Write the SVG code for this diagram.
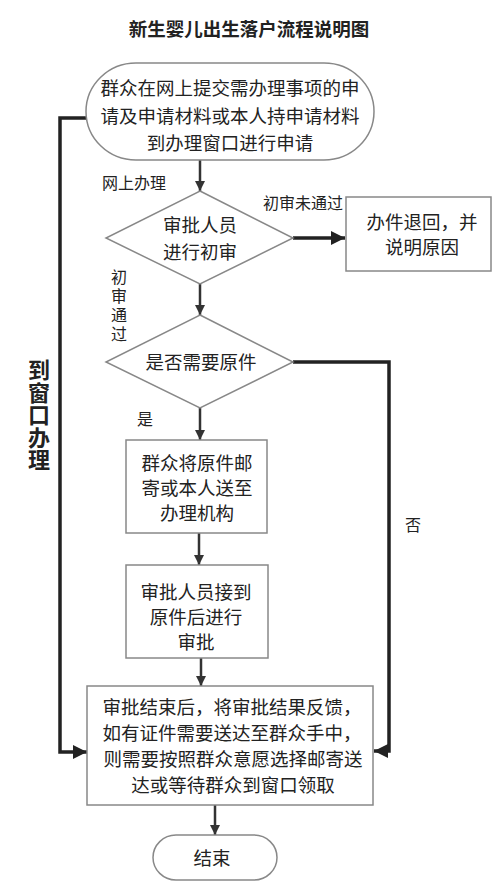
<svg xmlns="http://www.w3.org/2000/svg" width="500" height="888" viewBox="0 0 500 888">
<style>
text{font-family:"Noto Sans CJK SC","Noto Sans CJK JP",sans-serif;fill:#222;text-anchor:middle}
.t{font-size:18.5px}
.lbl{font-size:16px}
.title{font-size:18.5px;font-weight:bold}
.big{font-size:22px;font-weight:bold}
.vert{writing-mode:tb;text-anchor:start}
.node{fill:#fff;stroke:#888;stroke-width:1.5}
.c{fill:none;stroke:#333;stroke-width:2.5}
.ct{fill:none;stroke:#222;stroke-width:3.5}
</style>
<defs>
<marker id="a" viewBox="0 0 10 10" refX="10" refY="5" markerWidth="10" markerHeight="11" markerUnits="userSpaceOnUse" orient="auto"><path d="M0,0L10,5L0,10z" fill="#333"/></marker>
<marker id="A" viewBox="0 0 10 10" refX="10" refY="5" markerWidth="16" markerHeight="14" markerUnits="userSpaceOnUse" orient="auto"><path d="M0,0L10,5L0,10z" fill="#222"/></marker>
</defs>
<rect width="500" height="888" fill="#fff"/>
<text class="title" x="249" y="36">新生婴儿出生落户流程说明图</text>

<g id="connectors">
<line class="c" x1="200" y1="160" x2="200" y2="191" marker-end="url(#a)"/>
<line class="ct" x1="293" y1="238" x2="345" y2="238" marker-end="url(#A)"/>
<line class="c" x1="200" y1="284" x2="200" y2="315" marker-end="url(#a)"/>
<polyline class="ct" points="293,362 389,362 389,751 374,751" marker-end="url(#A)"/>
<line class="c" x1="200" y1="408" x2="200" y2="440" marker-end="url(#a)"/>
<line class="c" x1="199" y1="533" x2="199" y2="565" marker-end="url(#a)"/>
<line class="c" x1="201" y1="658" x2="201" y2="686" marker-end="url(#a)"/>
<polyline class="ct" points="87,118 60,118 60,752 87,752" marker-end="url(#A)"/>
<line class="c" x1="215" y1="805" x2="215" y2="835" marker-end="url(#a)"/>
</g>

<g id="lbl-online"><text class="lbl" x="134" y="189">网上办理</text></g>
<g id="lbl-fail"><text class="lbl" x="303" y="209">初审未通过</text></g>
<g id="lbl-pass"><text class="lbl vert" x="119" y="269" letter-spacing="3">初审通过</text></g>
<g id="lbl-yes"><text class="lbl" x="145" y="425">是</text></g>
<g id="lbl-no"><text class="lbl" x="413" y="531">否</text></g>
<g id="lbl-window"><text class="big vert" x="39" y="359" letter-spacing="0.5">到窗口办理</text></g>

<g id="start">
<rect class="node" x="86" y="63" width="288" height="97" rx="50" ry="48.5"/>
<text class="t"><tspan x="230" y="95">群众在网上提交需办理事项的申</tspan><tspan x="230" y="123">请及申请材料或本人持申请材料</tspan><tspan x="230" y="150">到办理窗口进行申请</tspan></text>
</g>

<g id="review1">
<polygon class="node" points="200,191 293,238 200,284 106,238"/>
<text class="t"><tspan x="200" y="232">审批人员</tspan><tspan x="200" y="259">进行初审</tspan></text>
</g>

<g id="reject">
<rect class="node" x="346" y="197" width="145" height="74"/>
<text class="t"><tspan x="422" y="229">办件退回，并</tspan><tspan x="422" y="254">说明原因</tspan></text>
</g>

<g id="need-original">
<polygon class="node" points="200,315 293,362 200,408 106,362"/>
<text class="t" x="201" y="369">是否需要原件</text>
</g>

<g id="send-original">
<rect class="node" x="126" y="440" width="141" height="93"/>
<text class="t"><tspan x="197" y="470">群众将原件邮</tspan><tspan x="197" y="495">寄或本人送至</tspan><tspan x="197" y="520">办理机构</tspan></text>
</g>

<g id="review2">
<rect class="node" x="126" y="565" width="142" height="93"/>
<text class="t"><tspan x="196" y="599">审批人员接到</tspan><tspan x="196" y="624">原件后进行</tspan><tspan x="196" y="649">审批</tspan></text>
</g>

<g id="feedback">
<rect class="node" x="87" y="686" width="286" height="119"/>
<text class="t"><tspan x="232" y="714">审批结束后，将审批结果反馈，</tspan><tspan x="232" y="740">如有证件需要送达至群众手中，</tspan><tspan x="233" y="766">则需要按照群众意愿选择邮寄送</tspan><tspan x="233" y="792">达或等待群众到窗口领取</tspan></text>
</g>

<g id="end">
<rect class="node" x="153" y="835" width="124" height="45" rx="23" ry="22.5"/>
<text class="t" x="212" y="865">结束</text>
</g>
</svg>
